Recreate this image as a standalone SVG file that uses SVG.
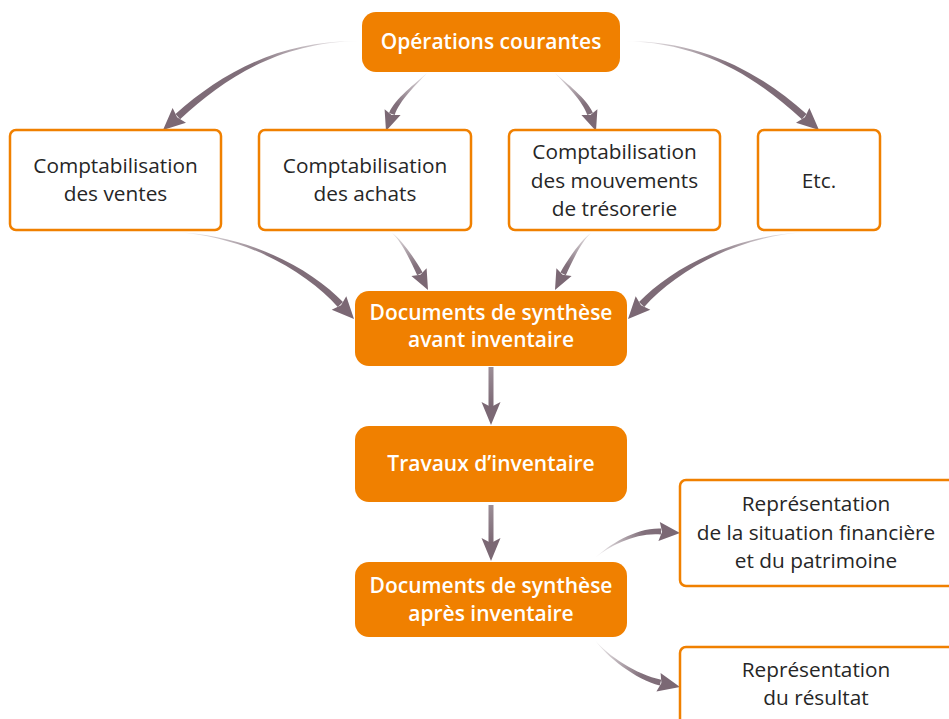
<svg xmlns="http://www.w3.org/2000/svg" width="949" height="719" viewBox="0 0 949 719">
<style>
.ob{fill:#f08000}
.wb{fill:#fff;stroke:#f08000;stroke-width:2.5}
.t{font-family:"Open Sans",Lato,sans-serif;font-size:20.8px;fill:#262626;text-anchor:middle}
.tb{font-family:"Open Sans",Lato,sans-serif;font-size:21px;font-weight:600;fill:#fff;text-anchor:middle}
.ah{fill:#7b6874}
</style>
<defs>
<linearGradient id="g1" gradientUnits="userSpaceOnUse" x1="360" y1="41" x2="163" y2="130"><stop offset="0" stop-color="#7b6874" stop-opacity="0"/><stop offset="0.5" stop-color="#7b6874" stop-opacity="0.95"/><stop offset="1" stop-color="#7b6874"/></linearGradient>
<linearGradient id="g2" gradientUnits="userSpaceOnUse" x1="427" y1="73" x2="386" y2="131"><stop offset="0" stop-color="#7b6874" stop-opacity="0.15"/><stop offset="0.6" stop-color="#7b6874" stop-opacity="0.95"/><stop offset="1" stop-color="#7b6874"/></linearGradient>
<linearGradient id="g5" gradientUnits="userSpaceOnUse" x1="175" y1="232" x2="354" y2="319"><stop offset="0" stop-color="#7b6874" stop-opacity="0"/><stop offset="0.5" stop-color="#7b6874" stop-opacity="0.95"/><stop offset="1" stop-color="#7b6874"/></linearGradient>
<linearGradient id="g6" gradientUnits="userSpaceOnUse" x1="392" y1="233" x2="428" y2="290"><stop offset="0" stop-color="#7b6874" stop-opacity="0.15"/><stop offset="0.6" stop-color="#7b6874" stop-opacity="0.95"/><stop offset="1" stop-color="#7b6874"/></linearGradient>
<linearGradient id="g9" gradientUnits="userSpaceOnUse" x1="595" y1="558" x2="680" y2="533"><stop offset="0" stop-color="#7b6874" stop-opacity="0.05"/><stop offset="0.6" stop-color="#7b6874" stop-opacity="0.95"/><stop offset="1" stop-color="#7b6874"/></linearGradient>
<linearGradient id="g10" gradientUnits="userSpaceOnUse" x1="595" y1="640" x2="680" y2="687"><stop offset="0" stop-color="#7b6874" stop-opacity="0.05"/><stop offset="0.6" stop-color="#7b6874" stop-opacity="0.95"/><stop offset="1" stop-color="#7b6874"/></linearGradient>
<linearGradient id="gs" x1="0" y1="0" x2="0" y2="1"><stop offset="0" stop-color="#7b6874" stop-opacity="0.75"/><stop offset="1" stop-color="#7b6874"/></linearGradient>
</defs>

<g id="connectors">
  <g id="a1">
    <path fill="url(#g1)" d="M360,41 C280,42 225.7,77.3 180.1,119.2 L175.5,114 C221.7,72.9 280,40 360,41 Z"/>
    <path class="ah" d="M163,130 L186,122.7 L177.1,117.3 L172.6,107.9 Z"/>
  </g>
  <g id="a4" transform="translate(982,0) scale(-1,1)">
    <path fill="url(#g1)" d="M360,41 C280,42 225.7,77.3 180.1,119.2 L175.5,114 C221.7,72.9 280,40 360,41 Z"/>
    <path class="ah" d="M163,130 L186,122.7 L177.1,117.3 L172.6,107.9 Z"/>
  </g>
  <g id="a2">
    <path fill="url(#g2)" d="M427,73 C417,84 399.3,100.6 394.7,115 L389.1,113 C394.5,99 416,83 427,73 Z"/>
    <path class="ah" d="M386,131 L400.6,114.9 L391.6,115 L384.6,109.3 Z"/>
  </g>
  <g id="a3" transform="translate(982,0) scale(-1,1)">
    <path fill="url(#g2)" d="M427,73 C417,84 399.3,100.6 394.7,115 L389.1,113 C394.5,99 416,83 427,73 Z"/>
    <path class="ah" d="M386,131 L400.6,114.9 L391.6,115 L384.6,109.3 Z"/>
  </g>
  <g id="a5">
    <path fill="url(#g5)" d="M175,232 C250,235 312,269.6 343,302.1 L337.8,306.9 C307.6,273.6 250,237 175,232 Z"/>
    <path class="ah" d="M354,319 L331.7,309.8 L341,305.2 L346.3,296.2 Z"/>
  </g>
  <g id="a8" transform="translate(982,0) scale(-1,1)">
    <path fill="url(#g5)" d="M175,232 C250,235 312,269.6 343,302.1 L337.8,306.9 C307.6,273.6 250,237 175,232 Z"/>
    <path class="ah" d="M354,319 L331.7,309.8 L341,305.2 L346.3,296.2 Z"/>
  </g>
  <g id="a6">
    <path fill="url(#g6)" d="M392,233 C402,239.7 415.8,260.3 422.6,272.5 L417.2,275.3 C411.4,262.5 401.2,240.7 392,233 Z"/>
    <path class="ah" d="M428,290 L411.4,275.9 L420.4,274.8 L426.6,268.3 Z"/>
  </g>
  <g id="a7" transform="translate(983,0) scale(-1,1)">
    <path fill="url(#g6)" d="M392,233 C402,239.7 415.8,260.3 422.6,272.5 L417.2,275.3 C411.4,262.5 401.2,240.7 392,233 Z"/>
    <path class="ah" d="M428,290 L411.4,275.9 L420.4,274.8 L426.6,268.3 Z"/>
  </g>
  <g id="s1">
    <rect x="488.5" y="367" width="5" height="40" fill="url(#gs)"/>
    <path class="ah" d="M491,425 L481.5,402 L491,407 L500.5,402 Z"/>
  </g>
  <g id="s2">
    <rect x="488.5" y="505" width="5" height="38" fill="url(#gs)"/>
    <path class="ah" d="M491,561 L481.5,538 L491,543 L500.5,538 Z"/>
  </g>
  <g id="a9">
    <path fill="url(#g9)" d="M595,558 C609.5,544.5 636.4,527.4 661.3,528.6 L660.9,534.6 C636,532.4 610.5,545.5 595,558 Z"/>
    <path class="ah" d="M680,533 L659.8,522 L662.1,531.7 L658.4,541 Z"/>
  </g>
  <g id="a10">
    <path fill="url(#g10)" d="M595,640 C607.6,655.6 636.6,674.8 661.2,679.7 L659.8,685.5 C635.6,679.6 606.4,656.4 595,640 Z"/>
    <path class="ah" d="M680,687 L660.6,672.9 L661.4,682.9 L656.4,691.5 Z"/>
  </g>
</g>

<g id="n-operations">
  <rect class="ob" x="362" y="12" width="258" height="60" rx="14"/>
  <text class="tb" x="491" y="49">Opérations courantes</text>
</g>
<g id="n-ventes">
  <rect class="wb" x="10" y="130" width="211" height="100" rx="6"/>
  <text class="t" x="115.5" y="173">Comptabilisation</text>
  <text class="t" x="115.5" y="201">des ventes</text>
</g>
<g id="n-achats">
  <rect class="wb" x="259" y="130" width="212" height="100" rx="6"/>
  <text class="t" x="365" y="173">Comptabilisation</text>
  <text class="t" x="365" y="201">des achats</text>
</g>
<g id="n-tresorerie">
  <rect class="wb" x="509" y="130" width="211" height="100" rx="6"/>
  <text class="t" x="614.5" y="159">Comptabilisation</text>
  <text class="t" x="614.5" y="188">des mouvements</text>
  <text class="t" x="614.5" y="216">de trésorerie</text>
</g>
<g id="n-etc">
  <rect class="wb" x="758" y="130" width="122" height="100" rx="6"/>
  <text class="t" x="819" y="188">Etc.</text>
</g>
<g id="n-avant">
  <rect class="ob" x="355" y="291" width="272" height="75" rx="14"/>
  <text class="tb" x="491" y="320">Documents de synthèse</text>
  <text class="tb" x="491" y="347">avant inventaire</text>
</g>
<g id="n-travaux">
  <rect class="ob" x="355" y="426" width="272" height="76" rx="14"/>
  <text class="tb" x="491" y="471">Travaux d’inventaire</text>
</g>
<g id="n-apres">
  <rect class="ob" x="355" y="562" width="272" height="75" rx="14"/>
  <text class="tb" x="491" y="593">Documents de synthèse</text>
  <text class="tb" x="491" y="621">après inventaire</text>
</g>
<g id="n-situation">
  <rect class="wb" x="680" y="480" width="280" height="106" rx="6"/>
  <text class="t" x="816" y="511">Représentation</text>
  <text class="t" x="816" y="540">de la situation financière</text>
  <text class="t" x="816" y="568">et du patrimoine</text>
</g>
<g id="n-resultat">
  <rect class="wb" x="680" y="647" width="280" height="100" rx="6"/>
  <text class="t" x="816" y="677">Représentation</text>
  <text class="t" x="816" y="705">du résultat</text>
</g>
</svg>
